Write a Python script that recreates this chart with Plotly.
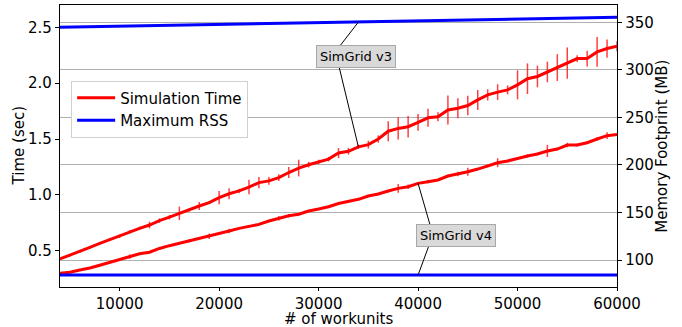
import numpy as np
import plotly.graph_objects as go

# ---------------- data ----------------
workunits = [4000, 5000, 6000, 7000, 8000, 9000, 10000, 11000, 12000, 13000,
             14000, 15000, 16000, 17000, 18000, 19000, 20000, 21000, 22000, 23000,
             24000, 25000, 26000, 27000, 28000, 29000, 30000, 31000, 32000, 33000,
             34000, 35000, 36000, 37000, 38000, 39000, 40000, 41000, 42000, 43000,
             44000, 45000, 46000, 47000, 48000, 49000, 50000, 51000, 52000, 53000,
             54000, 55000, 56000, 57000, 58000, 59000, 60000]

time_v3 = [0.426, 0.459, 0.49, 0.53, 0.566, 0.60, 0.63, 0.67, 0.70, 0.73,
           0.77, 0.80, 0.835, 0.865, 0.90, 0.93, 0.975, 1.01, 1.035, 1.07,
           1.11, 1.125, 1.155, 1.20, 1.24, 1.27, 1.295, 1.32, 1.375, 1.39,
           1.43, 1.45, 1.50, 1.57, 1.595, 1.61, 1.65, 1.69, 1.70, 1.76,
           1.775, 1.80, 1.85, 1.895, 1.92, 1.94, 1.985, 2.04, 2.06, 2.10,
           2.14, 2.18, 2.22, 2.22, 2.28, 2.31, 2.33]
err_v3 = [0.01, 0.01, 0.01, 0.012, 0.012, 0.012, 0.015, 0.015, 0.015, 0.03,
          0.02, 0.02, 0.06, 0.015, 0.035, 0.012, 0.06, 0.05, 0.02, 0.065,
          0.05, 0.035, 0.03, 0.05, 0.075, 0.025, 0.02, 0.02, 0.045, 0.03,
          0.02, 0.035, 0.033, 0.09, 0.10, 0.097, 0.075, 0.08, 0.04, 0.13,
          0.09, 0.087, 0.09, 0.05, 0.07, 0.04, 0.13, 0.137, 0.097, 0.092,
          0.12, 0.14, 0.03, 0.07, 0.134, 0.082, 0.045]

time_v4 = [0.298, 0.307, 0.327, 0.345, 0.37, 0.396, 0.417, 0.447, 0.473, 0.486,
           0.52, 0.545, 0.566, 0.59, 0.61, 0.63, 0.656, 0.676, 0.70, 0.718,
           0.736, 0.766, 0.79, 0.813, 0.826, 0.855, 0.873, 0.894, 0.922, 0.939,
           0.96, 0.99, 1.008, 1.034, 1.058, 1.073, 1.103, 1.118, 1.133, 1.169,
           1.187, 1.207, 1.231, 1.258, 1.288, 1.303, 1.327, 1.348, 1.366, 1.393,
           1.41, 1.446, 1.446, 1.467, 1.50, 1.53, 1.54]
err_v4 = [0.006, 0.006, 0.006, 0.006, 0.008, 0.008, 0.008, 0.02, 0.008, 0.008,
          0.012, 0.008, 0.008, 0.015, 0.008, 0.025, 0.008, 0.02, 0.008, 0.008,
          0.008, 0.008, 0.02, 0.015, 0.008, 0.01, 0.008, 0.008, 0.01, 0.008,
          0.01, 0.008, 0.01, 0.01, 0.04, 0.02, 0.012, 0.015, 0.01, 0.012,
          0.02, 0.035, 0.01, 0.012, 0.04, 0.012, 0.012, 0.015, 0.012, 0.055,
          0.012, 0.02, 0.012, 0.012, 0.015, 0.03, 0.012]

rss_workunits = [4000, 12000, 20000, 30000, 40000, 50000, 60000]
rss_v3 = [344.7, 346.2, 347.8, 349.4, 351.5, 353.4, 355.3]
rss_v4 = [84.2, 84.2, 84.2, 84.2, 84.2, 84.2, 84.2]

x_ticks = [10000, 20000, 30000, 40000, 50000, 60000]
x_tick_labels = ["10000", "20000", "30000", "40000", "50000", "60000"]
time_ticks = [0.5, 1.0, 1.5, 2.0, 2.5]
time_tick_labels = ["0.5", "1.0", "1.5", "2.0", "2.5"]
mem_ticks = [100, 150, 200, 250, 300, 350]
mem_tick_labels = ["100", "150", "200", "250", "300", "350"]

annot_v3_target = 34000
annot_v4_target = 40000

# ---------------- figure ----------------
FONT = "DejaVu Sans"
RED = "#ff0000"
BLUE = "#0000ff"

fig = go.Figure()

fig.add_trace(go.Scatter(
    x=workunits, y=time_v3, mode="lines", name="Simulation Time",
    line=dict(color=RED, width=3),
    error_y=dict(type="data", array=err_v3, color="rgba(255,0,0,0.75)", thickness=1.5, width=0),
    yaxis="y", showlegend=True, legendrank=1))
fig.add_trace(go.Scatter(
    x=workunits, y=time_v4, mode="lines", name="Simulation Time",
    line=dict(color=RED, width=3),
    error_y=dict(type="data", array=err_v4, color="rgba(255,0,0,0.75)", thickness=1.5, width=0),
    yaxis="y", showlegend=False))
fig.add_trace(go.Scatter(
    x=rss_workunits, y=rss_v3, mode="lines", name="Maximum RSS",
    line=dict(color=BLUE, width=3), yaxis="y2", showlegend=True, legendrank=2))
fig.add_trace(go.Scatter(
    x=rss_workunits, y=rss_v4, mode="lines", name="Maximum RSS",
    line=dict(color=BLUE, width=3), yaxis="y2", showlegend=False))

# leader lines for the annotation boxes
v3_time_at = float(np.interp(annot_v3_target, workunits, time_v3))
v3_rss_at = float(np.interp(annot_v3_target, rss_workunits, rss_v3))
v4_time_at = float(np.interp(annot_v4_target, workunits, time_v4))
v4_rss_at = float(np.interp(annot_v4_target, rss_workunits, rss_v4))

line_style = dict(color="black", width=1)
fig.add_shape(type="line", xref="x", yref="y2", x0=32056, y0=324.0,
              x1=annot_v3_target, y1=v3_rss_at, line=line_style)
fig.add_shape(type="line", xref="x", yref="y", x0=32030, y0=2.157,
              x1=annot_v3_target, y1=v3_time_at, line=line_style)
fig.add_shape(type="line", xref="x", yref="y", x0=41235, y0=0.721,
              x1=annot_v4_target, y1=v4_time_at, line=line_style)
fig.add_shape(type="line", xref="x", yref="y2", x0=41114, y0=115.8,
              x1=annot_v4_target, y1=v4_rss_at, line=line_style)

box = dict(showarrow=False, xref="paper", yref="paper",
           font=dict(family=FONT, size=13, color="black"),
           bgcolor="#d9d9d9", bordercolor="#a8a8a8", borderwidth=1, borderpad=3,
           xanchor="center", yanchor="middle")
fig.add_annotation(text="SimGrid v3", x=0.531, y=0.8174, **box)
fig.add_annotation(text="SimGrid v4", x=0.7107, y=0.1826, **box)

# axis titles
title_font = dict(family=FONT, size=15, color="black")
fig.add_annotation(text="# of workunits", x=0.5, y=-0.113, xref="paper", yref="paper",
                   showarrow=False, font=title_font, xanchor="center", yanchor="middle")
fig.add_annotation(text="Time (sec)", x=-0.0728, y=0.5, xref="paper", yref="paper",
                   showarrow=False, font=title_font, textangle=-90,
                   xanchor="center", yanchor="middle")
fig.add_annotation(text="Memory Footprint (MB)", x=1.0803, y=0.5, xref="paper", yref="paper",
                   showarrow=False, font=title_font, textangle=-90,
                   xanchor="center", yanchor="middle")

axis_common = dict(showline=True, linecolor="black", linewidth=1.3,
                   ticks="outside", tickwidth=1, tickcolor="black",
                   zeroline=False, automargin=False,
                   tickfont=dict(family=FONT, size=15, color="black"))

fig.update_layout(
    width=682, height=327,
    margin=dict(l=60, r=65, t=5, b=40, autoexpand=False),
    paper_bgcolor="white", plot_bgcolor="white",
    font=dict(family=FONT, size=15, color="black"),
    xaxis=dict(range=[4000, 60000], tickvals=x_ticks, ticktext=x_tick_labels, ticklen=3,
               mirror=True, showgrid=False, **axis_common),
    yaxis=dict(range=[0.175, 2.70], tickvals=time_ticks, ticktext=time_tick_labels, ticklen=4,
               showgrid=False, **axis_common),
    yaxis2=dict(range=[71.6, 368.2], tickvals=mem_ticks, ticktext=mem_tick_labels, ticklen=4,
                overlaying="y", side="right",
                showgrid=True, gridcolor="#b0b0b0", gridwidth=1, **axis_common),
    legend=dict(x=0.02, y=0.732, xanchor="left", yanchor="top",
                bgcolor="white", bordercolor="#d0d0d0", borderwidth=1,
                font=dict(family=FONT, size=15, color="black"),
                itemwidth=38, tracegroupgap=0),
    showlegend=True,
)

fig.write_html("out.html", config={"displayModeBar": False},
               post_script="document.body.style.margin='0';document.body.style.padding='0';")
